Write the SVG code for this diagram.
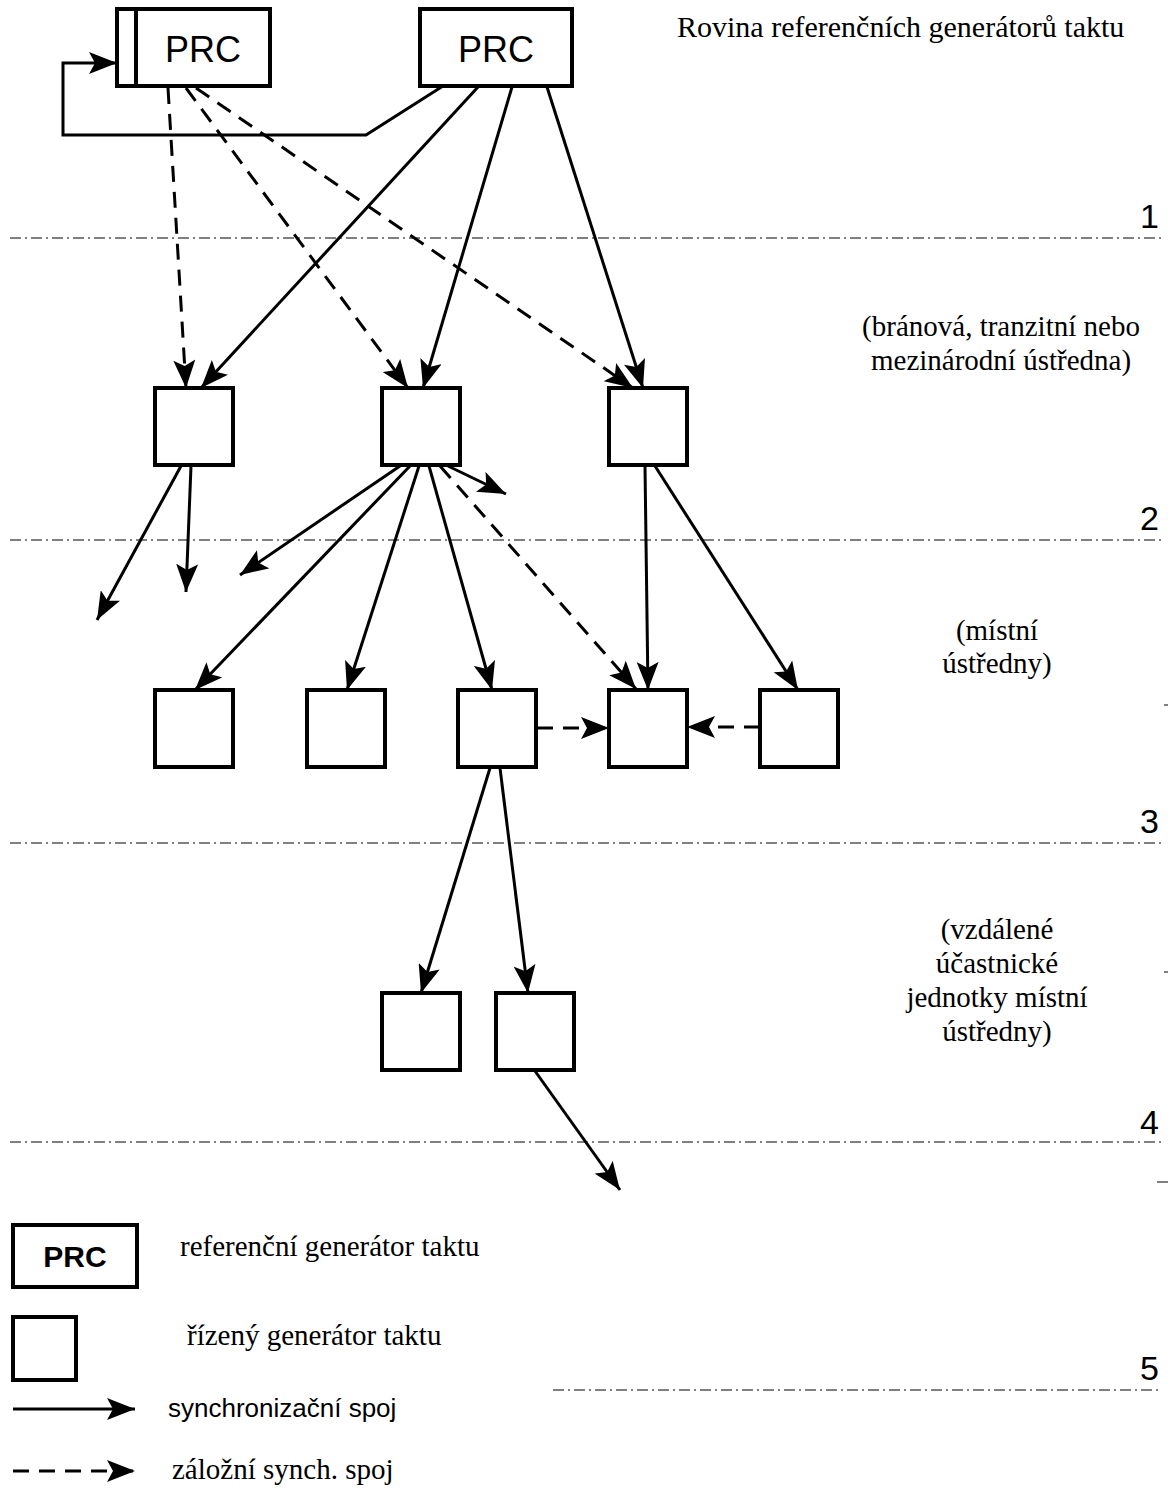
<svg xmlns="http://www.w3.org/2000/svg" width="1168" height="1490" viewBox="0 0 1168 1490">
<defs>
<style>
.box{fill:#fff;stroke:#000;stroke-width:4}
.ln{fill:none;stroke:#000;stroke-width:3}
.sl{fill:none;stroke:#000;stroke-width:3;marker-end:url(#ah)}
.dl{fill:none;stroke:#000;stroke-width:3;stroke-dasharray:16,10;marker-end:url(#ah)}
.lvl{fill:none;stroke:#000;stroke-width:1;stroke-dasharray:11,4,2,4}
.prc{font-family:"Liberation Sans",Arial,sans-serif;text-anchor:middle}
.num{font-family:"Liberation Sans",Arial,sans-serif;font-size:34px}
.tm{font-family:"Liberation Serif","Times New Roman",serif;font-size:29px}
.ar{font-family:"Liberation Sans",Arial,sans-serif;font-size:26px}
.c{text-anchor:middle}
</style>
<marker id="ah" markerUnits="userSpaceOnUse" markerWidth="28" markerHeight="22" viewBox="0 0 28 22" refX="28" refY="11" orient="auto">
<path d="M0,0 L28,11 L0,22 L6,11 z" fill="#000"/>
</marker>
</defs>
<rect width="1168" height="1490" fill="#fff"/>

<g id="levels">
<line class="lvl" x1="10" y1="238" x2="1162" y2="238"/>
<line class="lvl" x1="10" y1="540" x2="1162" y2="540"/>
<line class="lvl" x1="10" y1="843" x2="1162" y2="843"/>
<line class="lvl" x1="10" y1="1142" x2="1162" y2="1142"/>
<line class="lvl" x1="553" y1="1390" x2="1162" y2="1390"/>
<line class="ln" style="stroke-width:1" x1="1164" y1="705" x2="1168" y2="705"/>
<line class="ln" style="stroke-width:1" x1="1164" y1="972" x2="1168" y2="972"/>
<line class="ln" style="stroke-width:1" x1="1157" y1="1182" x2="1168" y2="1182"/>
<text class="num" x="1140" y="228">1</text>
<text class="num" x="1140" y="530">2</text>
<text class="num" x="1140" y="833">3</text>
<text class="num" x="1140" y="1134">4</text>
<text class="num" x="1140" y="1380">5</text>
</g>

<g id="labels" class="tm">
<text x="677" y="37" style="font-size:30px">Rovina referenčních generátorů taktu</text>
<text class="c" x="1001" y="336">(bránová, tranzitní nebo</text>
<text class="c" x="1001" y="370">mezinárodní ústředna)</text>
<text class="c" x="997" y="640">(místní</text>
<text class="c" x="997" y="673">ústředny)</text>
<text class="c" x="997" y="939">(vzdálené</text>
<text class="c" x="997" y="973">účastnické</text>
<text class="c" x="997" y="1007">jednotky místní</text>
<text class="c" x="997" y="1041">ústředny)</text>
</g>

<g id="connectors">
<polyline class="ln" points="443,86 366,135 63,135 63,63 90,63"/>
<line class="sl" x1="90" y1="63" x2="117" y2="63"/>
<line class="sl" x1="478" y1="87" x2="201" y2="388"/>
<line class="sl" x1="512" y1="87" x2="423" y2="388"/>
<line class="sl" x1="547" y1="87" x2="643" y2="388"/>
<line class="dl" x1="168" y1="88" x2="186" y2="388"/>
<line class="dl" x1="186" y1="88" x2="408" y2="388"/>
<line class="dl" x1="196" y1="88" x2="633" y2="388"/>
<line class="sl" x1="181" y1="466" x2="97" y2="620"/>
<line class="sl" x1="191" y1="466" x2="186" y2="592"/>
<line class="sl" x1="400" y1="466" x2="240" y2="575"/>
<line class="sl" x1="410" y1="466" x2="195" y2="690"/>
<line class="sl" x1="419" y1="466" x2="347" y2="690"/>
<line class="sl" x1="429" y1="466" x2="492" y2="690"/>
<line class="dl" x1="440" y1="466" x2="636" y2="689"/>
<line class="sl" x1="448" y1="466" x2="506" y2="494"/>
<line class="sl" x1="645" y1="466" x2="648" y2="690"/>
<line class="sl" x1="655" y1="466" x2="798" y2="690"/>
<line class="dl" x1="537" y1="728" x2="609" y2="728"/>
<line class="dl" x1="760" y1="727" x2="687" y2="727"/>
<line class="sl" x1="490" y1="768" x2="421" y2="993"/>
<line class="sl" x1="500" y1="768" x2="528" y2="993"/>
<line class="sl" x1="535" y1="1071" x2="620" y2="1190"/>
</g>

<g id="prc1">
<rect class="box" x="117" y="9" width="153" height="77"/>
<line class="ln" style="stroke-width:4" x1="136" y1="9" x2="136" y2="86"/>
<text class="prc" x="203" y="62" font-size="36">PRC</text>
</g>
<g id="prc2">
<rect class="box" x="420" y="9" width="152" height="77"/>
<text class="prc" x="496" y="62" font-size="36">PRC</text>
</g>

<g id="n1a"><rect class="box" x="155" y="388" width="78" height="77"/></g>
<g id="n1b"><rect class="box" x="382" y="388" width="78" height="77"/></g>
<g id="n1c"><rect class="box" x="609" y="388" width="78" height="77"/></g>

<g id="n2a"><rect class="box" x="155" y="690" width="78" height="77"/></g>
<g id="n2b"><rect class="box" x="307" y="690" width="78" height="77"/></g>
<g id="n2c"><rect class="box" x="458" y="690" width="78" height="77"/></g>
<g id="n2d"><rect class="box" x="609" y="690" width="78" height="77"/></g>
<g id="n2e"><rect class="box" x="760" y="690" width="78" height="77"/></g>

<g id="n3a"><rect class="box" x="382" y="993" width="78" height="77"/></g>
<g id="n3b"><rect class="box" x="496" y="993" width="78" height="77"/></g>

<g id="legend">
<rect class="box" x="13" y="1225" width="124" height="62"/>
<text class="prc" x="75" y="1267" font-size="30" font-weight="bold">PRC</text>
<text class="tm" x="180" y="1256">referenční generátor taktu</text>
<rect class="box" x="13" y="1317" width="63" height="63"/>
<text class="tm" x="187" y="1345">řízený generátor taktu</text>
<line class="sl" x1="13" y1="1409" x2="135" y2="1409"/>
<text class="ar" x="168" y="1417">synchronizační spoj</text>
<line class="dl" x1="13" y1="1471" x2="135" y2="1471"/>
<text class="tm" x="172" y="1479">záložní synch. spoj</text>
</g>
</svg>
